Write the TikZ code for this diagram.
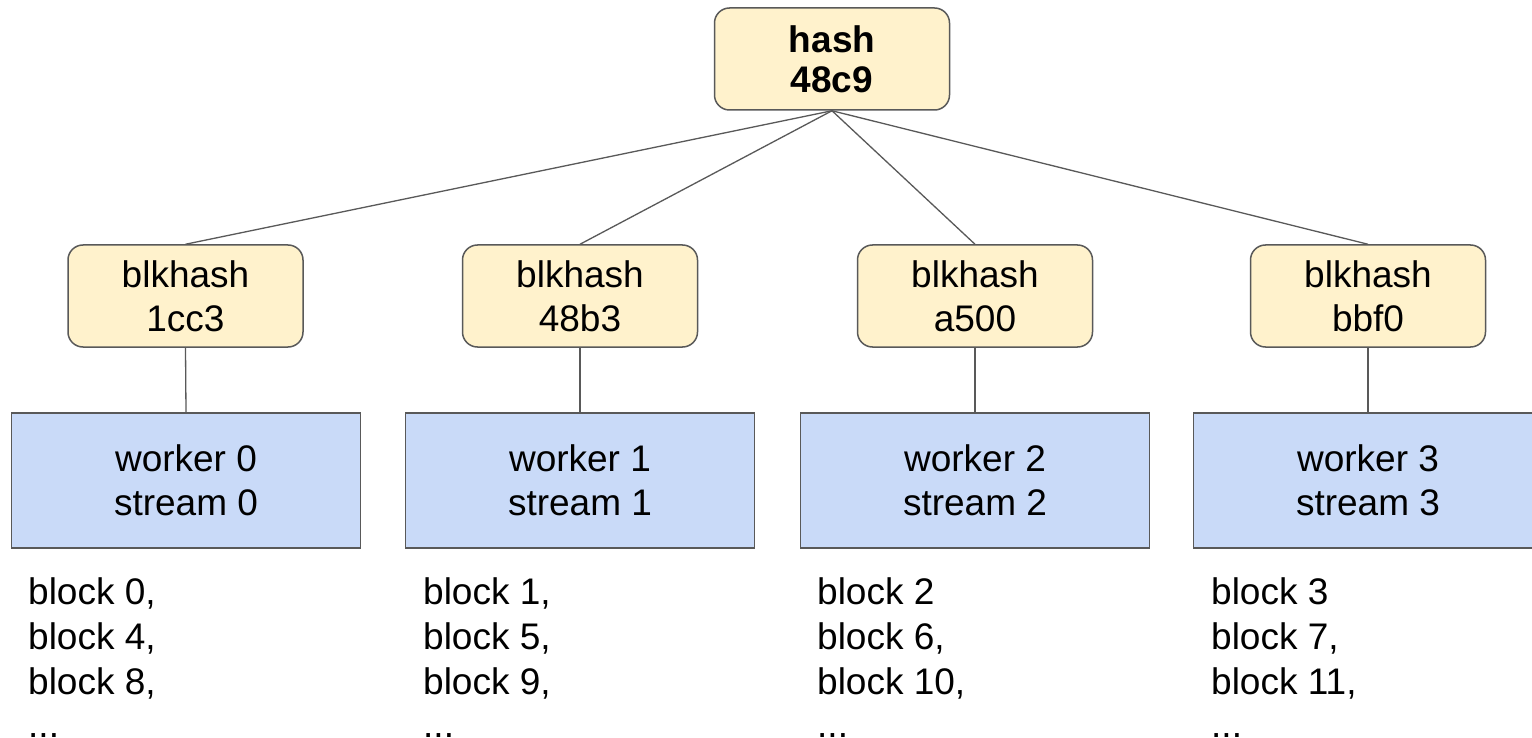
\documentclass[tikz,border=0pt]{standalone}
\usepackage{fontspec}
\setmainfont{Liberation Sans}
\definecolor{yfill}{HTML}{FFF2CC}
\definecolor{bfill}{HTML}{C9DAF8}
\definecolor{edge}{HTML}{595959}
\begin{document}
\begin{tikzpicture}[x=1pt,y=-1pt,
  hashbox/.style={draw=edge,line width=1.5pt,fill=yfill,rounded corners=15pt,
    minimum width=235pt,minimum height=102pt,align=center,inner sep=0pt,
    font=\fontsize{37}{44}\selectfont},
  workbox/.style={draw=edge,line width=1.5pt,fill=bfill,
    minimum width=349pt,minimum height=135pt,align=center,inner sep=0pt,
    font=\fontsize{37}{44}\selectfont},
  listtext/.style={anchor=base west,align=left,inner sep=0pt,
    font=\fontsize{37}{45}\selectfont},
  link/.style={draw=edge,line width=1.3pt}]
\clip (0,0) rectangle (1532,738);
\fill[white] (0,0) rectangle (1532,738);
% top
\node[hashbox,font=\fontsize{37}{40}\selectfont\bfseries] (top) at (832,59) {hash\\48c9};
% blkhash nodes
\node[hashbox] (b0) at (185.5,296) {blkhash\\1cc3};
\node[hashbox] (b1) at (580,296) {blkhash\\48b3};
\node[hashbox] (b2) at (975,296) {blkhash\\a500};
\node[hashbox] (b3) at (1368,296) {blkhash\\bbf0};
% workers
\node[workbox] (w0) at (186,480.5) {worker 0\\stream 0};
\node[workbox] (w1) at (580,480.5) {worker 1\\stream 1};
\node[workbox] (w2) at (975,480.5) {worker 2\\stream 2};
\node[workbox] (w3) at (1368,480.5) {worker 3\\stream 3};
% connectors
\foreach \b in {b0,b1,b2,b3} \draw[link] (top.south) -- (\b.north);
\foreach \i in {0,1,2,3} \draw[link] (b\i.south) -- (w\i.north);
% lists (base anchor = last line)
\node[listtext] (l0) at (28,737) {block 0,\\block 4,\\block 8,\\[-2pt]...};
\node[listtext] (l1) at (423,737) {block 1,\\block 5,\\block 9,\\[-2pt]...};
\node[listtext] (l2) at (817,737) {block 2\\block 6,\\block 10,\\[-2pt]...};
\node[listtext] (l3) at (1211,737) {block 3\\block 7,\\block 11,\\[-2pt]...};
\end{tikzpicture}
\end{document}
